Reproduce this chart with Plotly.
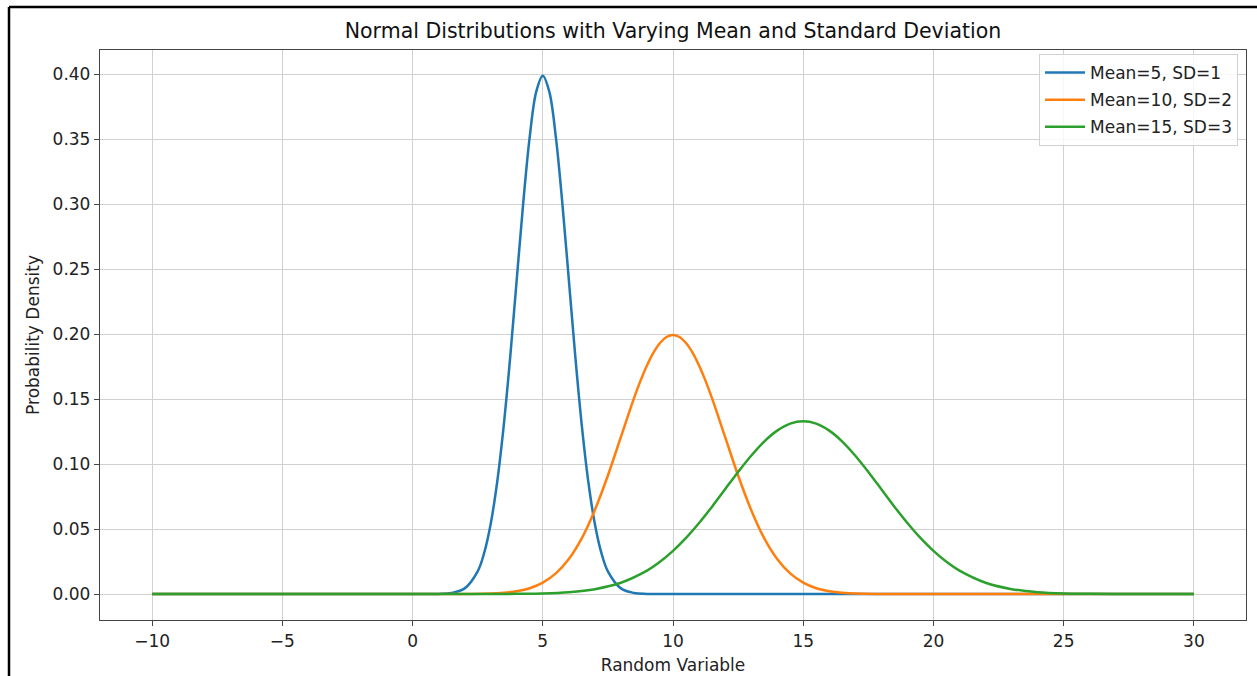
import plotly.graph_objects as go

# Values (probability density at each x)
blue_name = "Mean=5, SD=1"
blue_x = [-10, 0, 1, 1.5, 2, 2.5, 2.75, 3, 3.25, 3.5, 3.75, 4, 4.25, 4.5, 4.75, 5,
          5.25, 5.5, 5.75, 6, 6.25, 6.5, 6.75, 7, 7.25, 7.5, 8, 8.5, 9, 10, 30]
blue_y = [0, 0, 0.0001, 0.0009, 0.0044, 0.0175, 0.0317, 0.0540, 0.0863, 0.1295, 0.1826,
          0.2420, 0.3011, 0.3521, 0.3867, 0.3989,
          0.3867, 0.3521, 0.3011, 0.2420, 0.1826, 0.1295, 0.0863, 0.0540, 0.0317, 0.0175,
          0.0044, 0.0009, 0.0001, 0, 0]

orange_name = "Mean=10, SD=2"
orange_x = [-10, 1, 2, 3, 3.5, 4, 4.5, 5, 5.5, 6, 6.5, 7, 7.5, 8, 8.5, 8.75, 9, 9.25, 9.5,
            9.75, 10, 10.25, 10.5, 10.75, 11, 11.25, 11.5, 12, 12.5, 13, 13.5, 14, 14.5,
            15, 15.5, 16, 16.5, 17, 18, 19, 30]
orange_y = [0, 0, 0.0001, 0.0004, 0.0010, 0.0022, 0.0045, 0.0088, 0.0159, 0.0270, 0.0431,
            0.0648, 0.0913, 0.1210, 0.1506, 0.1641, 0.1760, 0.1859, 0.1933,
            0.1979, 0.1995, 0.1979, 0.1933, 0.1859, 0.1760, 0.1641, 0.1506, 0.1210,
            0.0913, 0.0648, 0.0431, 0.0270, 0.0159,
            0.0088, 0.0045, 0.0022, 0.0010, 0.0004, 0.0001, 0, 0]

green_name = "Mean=15, SD=3"
green_x = [-10, 2, 3, 4, 5, 6, 7, 8, 9, 9.5, 10, 10.5, 11, 11.5, 12, 12.5, 13, 13.5, 14,
           14.5, 15, 15.5, 16, 16.5, 17, 17.5, 18, 18.5, 19, 19.5, 20, 20.5,
           21, 22, 23, 24, 25, 26, 27, 28, 30]
green_y = [0, 0, 0.00005, 0.0002, 0.0005, 0.0015, 0.0038, 0.0087, 0.0180, 0.0248, 0.0332,
           0.0432, 0.0547, 0.0673, 0.0807, 0.0940, 0.1065, 0.1174, 0.1258,
           0.1312, 0.1330, 0.1312, 0.1258, 0.1174, 0.1065, 0.0940, 0.0807, 0.0673,
           0.0547, 0.0432, 0.0332, 0.0248,
           0.0180, 0.0087, 0.0038, 0.0015, 0.0005, 0.0002, 0.00005, 0, 0]

x_ticks = [-10, -5, 0, 5, 10, 15, 20, 25, 30]
x_tick_labels = ["\u221210", "\u22125", "0", "5", "10", "15", "20", "25", "30"]
y_ticks = [0.00, 0.05, 0.10, 0.15, 0.20, 0.25, 0.30, 0.35, 0.40]

series = [
    (blue_x, blue_y, blue_name, "#1f77b4"),
    (orange_x, orange_y, orange_name, "#ff7f0e"),
    (green_x, green_y, green_name, "#2ca02c"),
]

FONT = "DejaVu Sans"
fig = go.Figure()
for i, (xs, ys, nm, col) in enumerate(series):
    fig.add_trace(go.Scatter(x=xs, y=ys, name=nm, mode="lines", legendgroup=f"g{i}",
                             line=dict(color=col, width=2.5, shape="spline", smoothing=1.0)))

W, H = 1257, 676
L, R, T, B = 100, 11, 50, 56
pw, ph = W - L - R, H - T - B

fig.update_layout(
    width=W, height=H,
    margin=dict(l=L, r=R, t=T, b=B),
    paper_bgcolor="white", plot_bgcolor="white",
    font=dict(family=FONT, size=17, color="#222"),
    title=dict(text="Normal Distributions with Varying Mean and Standard Deviation",
               x=0.5, xref="paper", xanchor="center",
               y=1 - 31 / H, yref="container", yanchor="middle",
               font=dict(family=FONT, size=20.5, color="#111")),
    xaxis=dict(range=[-12, 32], tickvals=x_ticks, ticktext=x_tick_labels,
               showgrid=True, gridcolor="#d0d0d0", gridwidth=1.3,
               showline=True, linecolor="#444", linewidth=1.3, mirror=True,
               ticks="outside", ticklen=5, tickcolor="#444", zeroline=False,
               tickfont=dict(size=17), automargin=False,
               title=dict(text="Random Variable", font=dict(size=17), standoff=9)),
    yaxis=dict(range=[-0.01995, 0.4188], tickvals=y_ticks, tickformat=".2f",
               showgrid=True, gridcolor="#d0d0d0", gridwidth=1.3,
               showline=True, linecolor="#444", linewidth=1.3, mirror=True,
               ticks="outside", ticklen=5, tickcolor="#444", zeroline=False,
               tickfont=dict(size=17), automargin=False,
               title=dict(text="Probability Density", font=dict(size=17), standoff=8)),
    legend=dict(x=(1238 - L) / pw, xanchor="right", y=1 - 4 / ph, yanchor="top",
                bgcolor="rgba(255,255,255,0.8)", bordercolor="#d0d0d0", borderwidth=1,
                font=dict(size=17), tracegroupgap=2, itemwidth=40),
    showlegend=True,
)

# outer frame (top and left edges of the captured figure)
fig.add_shape(type="line", xref="paper", yref="paper",
              x0=(9 - L) / pw, x1=(W + 5 - L) / pw, y0=1 + (T - 7) / ph, y1=1 + (T - 7) / ph,
              line=dict(color="black", width=2.5))
fig.add_shape(type="line", xref="paper", yref="paper",
              x0=(9 - L) / pw, x1=(9 - L) / pw, y0=1 + (T - 7) / ph, y1=-(B + 5) / ph,
              line=dict(color="black", width=2.5))

fig.write_html("out.html", config={"displayModeBar": False},
               post_script="document.body.style.margin='0';")
